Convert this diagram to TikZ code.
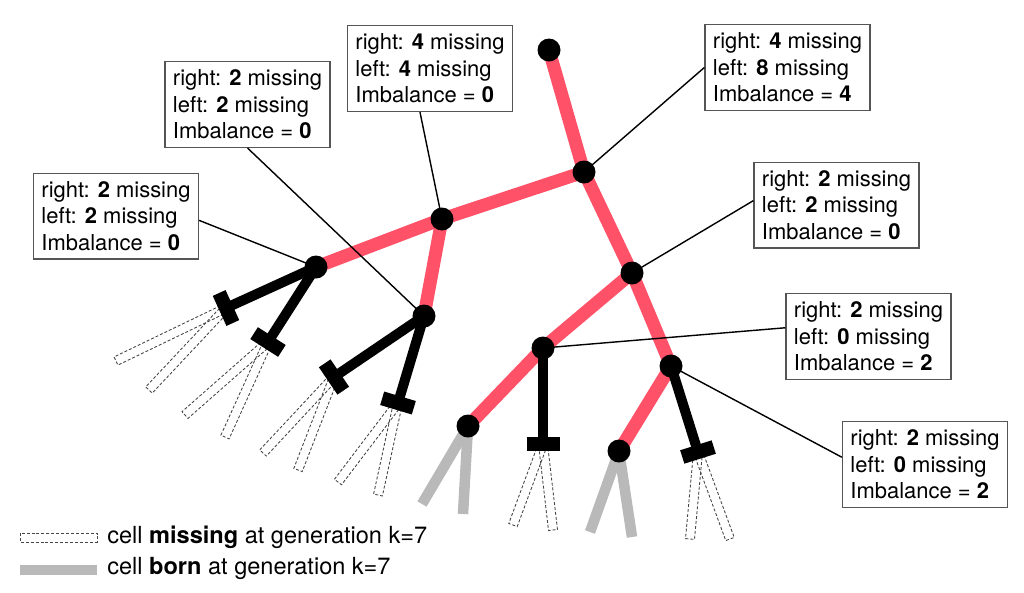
\documentclass[tikz,border=0pt]{standalone}
\usepackage{fontspec}
\setmainfont{TeX Gyre Heros}
\usepackage{tikz}
\usetikzlibrary{calc}

\definecolor{treepink}{RGB}{255,82,104}
\definecolor{borngray}{RGB}{185,185,185}
\definecolor{boxgray}{RGB}{85,85,85}
\definecolor{ghostgray}{RGB}{70,70,70}

% text of one imbalance box
\newcommand{\missbox}[3]{right: \textbf{#1} missing\\left: \textbf{#2} missing\\Imbalance = \textbf{#3}}
% dashed outline of a cell that is missing, from #1 to #2
\newcommand{\ghostcell}[2]{\draw[ghost] ($(#1)!0.9mm!90:(#2)$) -- ($(#2)!0.9mm!-90:(#1)$) -- ($(#2)!0.9mm!90:(#1)$) -- ($(#1)!0.9mm!-90:(#2)$) -- cycle;}
% black end bar at #2, across the branch coming from #1
\newcommand{\capbar}[2]{\draw[endbar] ($(#2)!3.3mm!90:(#1)$) -- ($(#2)!3.3mm!-90:(#1)$);}

\begin{document}
\begin{tikzpicture}[x=0.2mm,y=-0.2mm,
  live/.style={line width=7.4pt,treepink},
  dead/.style={line width=5.7pt,black},
  born/.style={line width=6pt,borngray},
  endbar/.style={line width=8pt,black},
  dot/.style={circle,fill=black,inner sep=0pt,minimum size=4.6mm},
  ghost/.style={draw=ghostgray,line width=0.5pt,dash pattern=on 1.7pt off 1.1pt},
  infobox/.style={draw=boxgray,line width=0.8pt,fill=white,align=left,
    inner xsep=4.5pt,inner ysep=4.6pt,font=\fontsize{12.5}{15.1}\selectfont},
  pointer/.style={line width=0.8pt},
  legend/.style={anchor=base west,inner sep=0pt,font=\fontsize{13.4}{16}\selectfont}]

\useasboundingbox (0,0) rectangle (1024,592);

% branch points
\coordinate (top) at (549,50);
\coordinate (A) at (584,172);
\coordinate (B) at (442,219);
\coordinate (C) at (316,267);
\coordinate (D) at (424,316);
\coordinate (E) at (632,273);
\coordinate (F) at (543,348);
\coordinate (G) at (671,366);
\coordinate (H) at (468,426);
\coordinate (I) at (619,451);

% end bars of dead branches
\coordinate (k1) at (226,308);
\coordinate (k2) at (268,342);
\coordinate (k3) at (334,377);
\coordinate (k4) at (398,403);
\coordinate (k5) at (543,444);
\coordinate (k6) at (698,452);

% free ends of the cells at k=7
\coordinate (m1a) at (116,361);
\coordinate (m1b) at (149,390);
\coordinate (m2a) at (185,415);
\coordinate (m2b) at (225,437);
\coordinate (m3a) at (263,453);
\coordinate (m3b) at (298,470);
\coordinate (m4a) at (338,482);
\coordinate (m4b) at (378,495);
\coordinate (m5a) at (513,525);
\coordinate (m5b) at (553,530);
\coordinate (m6a) at (690,539);
\coordinate (m6b) at (730,539);
\coordinate (b1a) at (422,504);
\coordinate (b1b) at (463,514);
\coordinate (b2a) at (590,532);
\coordinate (b2b) at (632,537);

% missing cells
\ghostcell{k1}{m1a}
\ghostcell{k1}{m1b}
\ghostcell{k2}{m2a}
\ghostcell{k2}{m2b}
\ghostcell{k3}{m3a}
\ghostcell{k3}{m3b}
\ghostcell{k4}{m4a}
\ghostcell{k4}{m4b}
\ghostcell{k5}{m5a}
\ghostcell{k5}{m5b}
\ghostcell{k6}{m6a}
\ghostcell{k6}{m6b}

% born cells
\draw[born] (H) -- (b1a);
\draw[born] (H) -- (b1b);
\draw[born] (I) -- (b2a);
\draw[born] (I) -- (b2b);

% living lineage
\draw[live] (top) -- (A);
\draw[live] (A) -- (B);
\draw[live] (B) -- (C);
\draw[live] (B) -- (D);
\draw[live] (A) -- (E);
\draw[live] (E) -- (F);
\draw[live] (E) -- (G);
\draw[live] (F) -- (H);
\draw[live] (G) -- (I);

% dead branches
\draw[dead] (C) -- (k1);
\draw[dead] (C) -- (k2);
\draw[dead] (D) -- (k3);
\draw[dead] (D) -- (k4);
\draw[dead] (F) -- (k5);
\draw[dead] (G) -- (k6);
\capbar{C}{k1}
\capbar{C}{k2}
\capbar{D}{k3}
\capbar{D}{k4}
\capbar{F}{k5}
\capbar{G}{k6}

% imbalance boxes
\node[infobox] (boxC) at (116,216) {\missbox{2}{2}{0}};
\node[infobox] (boxD) at (247.5,104.5) {\missbox{2}{2}{0}};
\node[infobox] (boxB) at (430,68.5) {\missbox{4}{4}{0}};
\node[infobox] (boxA) at (787.5,67.5) {\missbox{4}{8}{4}};
\node[infobox] (boxE) at (836.5,205) {\missbox{2}{2}{0}};
\node[infobox] (boxF) at (868.5,336.5) {\missbox{2}{0}{2}};
\node[infobox] (boxG) at (925,464.5) {\missbox{2}{0}{2}};

\draw[pointer] (boxC.-3) -- (C);
\draw[pointer] (boxD.south) -- (D);
\draw[pointer] (boxB.-103) -- (B);
\draw[pointer] (boxA.west) -- (A);
\draw[pointer] (boxE.177) -- (E);
\draw[pointer] (boxF.174) -- (F);
\draw[pointer] (boxG.175) -- (G);

% cells
\foreach \n in {top,A,B,C,D,E,F,G,H,I}
  \node[dot] (\n-dot) at (\n) {};

% legend
\draw[ghost] (20,533) rectangle (97,542);
\fill[borngray] (20,565) rectangle (97,575);
\node[legend] (legmiss) at (107,543) {cell \textbf{missing} at generation k=7};
\node[legend] (legborn) at (107,574) {cell \textbf{born} at generation k=7};

\end{tikzpicture}
\end{document}
